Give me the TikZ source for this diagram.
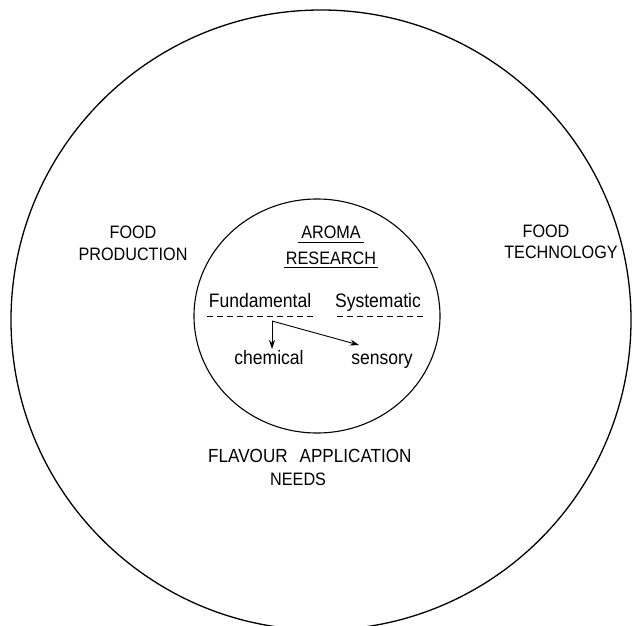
\documentclass[tikz,border=0pt]{standalone}
\usepackage{fontspec}
\setmainfont{Liberation Sans}[FakeStretch=0.9]
\usetikzlibrary{arrows.meta}
\begin{document}
\begin{tikzpicture}[x=1pt,y=-1pt,
  caps/.style={inner sep=0pt,anchor=base,font=\fontsize{18}{20}\selectfont},
  lower/.style={inner sep=0pt,anchor=base,font=\fontsize{19.5}{22}\selectfont},
  ring/.style={draw=black,line width=1.3pt},
  core/.style={draw=black,line width=1.1pt},
  uline/.style={line width=0.8pt},
  dline/.style={line width=0.9pt,dash pattern=on 6pt off 4pt},
  link/.style={line width=0.9pt,-{Stealth[length=9pt,width=6pt]}}]
\useasboundingbox (0,0) rectangle (632,626);

% outer and inner rings
\draw[ring] (321,320) circle (310);
\draw[core] (317,316) ellipse [x radius=123, y radius=117];

% outer field labels
\node[caps] (food1) at (133,238) {FOOD};
\node[caps] (prod) at (133,260) {PRODUCTION};
\node[caps] (food2) at (546,237) {FOOD};
\node[caps] (tech) at (561,258) {TECHNOLOGY};
\node[caps,anchor=base west,font=\fontsize{19}{21}\selectfont] (flav) at (208,462) {FLAVOUR\hspace{12pt}APPLICATION};
\node[caps,anchor=base west] (needs) at (270,485) {NEEDS};

% centre heading
\node[caps] (aroma) at (331,238) {AROMA};
\node[caps] (research) at (331,264) {RESEARCH};
\draw[uline] ([xshift=-3pt,yshift=-4pt]aroma.base west) -- ([xshift=3pt,yshift=-4pt]aroma.base east);
\draw[uline] ([xshift=-2pt,yshift=-3.5pt]research.base west) -- ([xshift=2pt,yshift=-3.5pt]research.base east);

% two branches of research
\node[lower] (fund) at (260,307) {Fundamental};
\node[lower] (syst) at (378,307) {Systematic};
\draw[dline] (207,316) -- (315,316);
\draw[dline] (337,316) -- (423,316);

% sub-branches
\node[lower] (chem) at (269,364) {chemical};
\node[lower] (sens) at (382,364) {sensory};
\coordinate (split) at (272,321);
\coordinate (chemtip) at (272,349);
\coordinate (senstip) at (359,345);
\draw[link] (split) -- (chemtip);
\draw[link] (split) -- (senstip);
\end{tikzpicture}
\end{document}
